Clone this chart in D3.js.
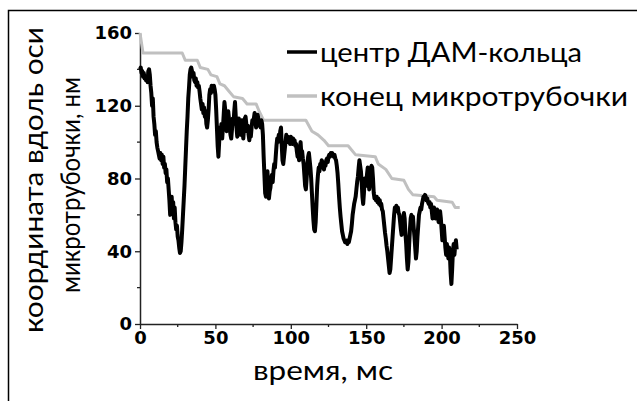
<!DOCTYPE html>
<html>
<head>
<meta charset="utf-8">
<script src="https://cdn.jsdelivr.net/npm/d3@7"></script>
<style>
  html, body { margin: 0; padding: 0; background: #fff; }
  svg { display: block; }
</style>
</head>
<body>
<svg id="chart" width="637" height="401"></svg>
<script>
// DAM-ring centre position, nm, sampled every 0.5 ms from t = 0
const ringSampleMs = 0.5;
const ringNm = [
  140,141,138,139,136,138,135,136,134,135,
  133,139,140,137,131,127,120,124,114,110,
  104,106,100,97,95,93,91,94,90,93,
  88,92,86,88,83,85,78,80,74,68,
  60,66,70,62,67,58,64,56,52,54,
  48,46,42,39,40,45,52,60,68,76,
  86,96,106,114,124,130,137,140,141,139,
  136,138,134,133,135,131,133,130,131,128,
  124,121,118,121,116,119,114,117,110,108,
  112,118,126,129,127,131,130,128,131,129,
  126,118,108,98,92,100,108,104,110,102,
  108,115,122,118,110,106,112,117,113,108,
  104,102,107,113,110,117,122,114,108,103,
  110,113,108,104,109,112,106,102,108,113,
  114,110,106,109,104,101,106,103,108,112,
  110,113,116,112,108,111,115,113,109,111,
  108,112,110,104,92,82,72,70,80,84,
  76,69,73,75,80,82,78,84,88,86,
  92,98,102,100,104,101,106,108,98,90,
  88,92,96,100,104,101,103,100,102,99,
  103,101,99,102,100,101,98,99,95,92,
  94,90,97,100,93,95,91,88,82,76,
  74,80,88,92,94,90,86,80,72,64,
  57,52,51,56,66,76,82,86,84,88,
  87,90,89,86,85,88,87,90,91,89,
  92,93,92,94,93,94,93,92,93,91,
  90,87,83,77,70,64,59,55,51,49,
  47,46,45,46,45,44,46,45,47,49,
  51,55,60,63,66,68,70,74,78,81,
  86,90,87,84,78,70,66,72,80,78,
  76,82,86,80,74,78,84,87,86,80,
  72,69,70,68,70,67,69,66,68,65,
  66,63,62,58,54,50,47,43,40,36,
  32,28,30,36,42,48,54,60,64,62,
  65,63,64,61,60,56,52,49,54,58,
  61,58,50,44,36,30,34,44,52,58,
  60,56,59,53,48,42,36,40,48,54,
  60,62,64,63,66,68,70,69,71,70,
  68,69,67,66,67,64,66,62,58,60,
  64,62,58,61,63,60,56,58,62,58,
  52,46,50,54,48,42,38,44,40,36,
  42,38,28,22,30,40,44,38,43,46,
  41
];

// Microtubule end position (stepwise shortening)
const endTimeMs = [0, 2, 28, 30, 38, 40, 45, 47, 51, 53, 56, 59, 62, 68, 71, 77, 79, 82,
  110, 114, 118, 122, 125, 138, 143, 156, 158, 163, 167, 175, 178, 181, 195, 197, 207, 209, 212];
const endNm = [160, 149, 149, 145, 145, 141, 140, 137, 136, 132, 131, 128, 125, 124, 121, 121, 117, 112,
  112, 106, 104, 101, 98, 98, 93, 92, 88, 85, 80, 79, 74, 71, 70, 68, 67, 64, 64];

const seriesNames = ["центр ДАМ-кольца", "конец микротрубочки"];
const seriesColors = ["#000000", "#c0c0c0"];

const xTicks = [0, 50, 100, 150, 200, 250];
const yTicks = [0, 40, 80, 120, 160];
const xTitle = "время, мс";
const yTitleLines = ["координата вдоль оси", "микротрубочки, нм"];

const svg = d3.select("#chart");

// outer frame (top and left edges)
svg.append("path")
  .attr("d", "M8.5,401 V10.5 H637")
  .attr("fill", "none").attr("stroke", "#000").attr("stroke-width", 1.5);

const x = d3.scaleLinear().domain([0, 250]).range([140, 517]);
const y = d3.scaleLinear().domain([0, 160]).range([324, 33]);

const tickFont = "'DejaVu Sans', sans-serif";
const titleFont = "Lato, 'Open Sans', sans-serif";

// minor ticks
const xMinor = d3.range(25, 250, 50);
const yMinor = d3.range(20, 160, 40);
svg.append("g").selectAll("line").data(xMinor).join("line")
  .attr("x1", d => x(d)).attr("x2", d => x(d))
  .attr("y1", y(0)).attr("y2", y(0) + 3)
  .attr("stroke", "#222").attr("stroke-width", 1.3);
svg.append("g").selectAll("line").data(yMinor).join("line")
  .attr("y1", d => y(d)).attr("y2", d => y(d))
  .attr("x1", x(0)).attr("x2", x(0) - 3)
  .attr("stroke", "#222").attr("stroke-width", 1.3);

// axes
const xAxis = svg.append("g").attr("transform", `translate(0,${y(0)})`)
  .call(d3.axisBottom(x).tickValues(xTicks).tickSize(5).tickPadding(2).tickSizeOuter(0));
const yAxis = svg.append("g").attr("transform", `translate(${x(0)},0)`)
  .call(d3.axisLeft(y).tickValues(yTicks).tickSize(5).tickPadding(3).tickSizeOuter(0));

[xAxis, yAxis].forEach(a => {
  a.select(".domain").attr("stroke", "#222").attr("stroke-width", 1.5);
  a.selectAll(".tick line").attr("stroke", "#222").attr("stroke-width", 1.3);
  a.selectAll(".tick text")
    .attr("fill", "#000")
    .style("font-family", tickFont)
    .style("font-weight", "bold")
    .style("font-size", "18px");
});

// data lines
const ringLine = d3.line()
  .x((d, i) => x(i * ringSampleMs))
  .y(d => y(d));
const endLine = d3.line()
  .x((d, i) => x(endTimeMs[i]))
  .y(d => y(d));

svg.append("path").datum(endNm)
  .attr("d", endLine)
  .attr("fill", "none")
  .attr("stroke", seriesColors[1])
  .attr("stroke-width", 3)
  .attr("stroke-linejoin", "round");

svg.append("path").datum(ringNm)
  .attr("d", ringLine)
  .attr("fill", "none")
  .attr("stroke", seriesColors[0])
  .attr("stroke-width", 4)
  .attr("stroke-linejoin", "round");

// legend
const legendRows = [
  { y: 52, baseline: 62, width: 262 },
  { y: 96, baseline: 106, width: 308 }
];
legendRows.forEach((r, i) => {
  svg.append("line")
    .attr("x1", 287).attr("x2", 317)
    .attr("y1", r.y).attr("y2", r.y)
    .attr("stroke", seriesColors[i]).attr("stroke-width", 3.5);
  svg.append("text")
    .attr("x", 320).attr("y", r.baseline)
    .attr("textLength", r.width).attr("lengthAdjust", "spacingAndGlyphs")
    .style("font-family", titleFont).style("font-size", "27px")
    .attr("fill", "#000")
    .text(seriesNames[i]);
});

// axis titles
svg.append("text")
  .attr("x", 323).attr("y", 380)
  .attr("text-anchor", "middle")
  .attr("textLength", 140).attr("lengthAdjust", "spacingAndGlyphs")
  .style("font-family", titleFont).style("font-size", "27px")
  .attr("fill", "#000")
  .text(xTitle);

const yTitleSpecs = [
  { cx: 43, cy: 180, len: 306 },
  { cx: 80, cy: 185, len: 216 }
];
yTitleLines.forEach((t, i) => {
  const s = yTitleSpecs[i];
  svg.append("text")
    .attr("transform", `translate(${s.cx},${s.cy}) rotate(-90)`)
    .attr("text-anchor", "middle")
    .attr("textLength", s.len).attr("lengthAdjust", "spacingAndGlyphs")
    .style("font-family", titleFont).style("font-size", "27px")
    .attr("fill", "#000")
    .text(t);
});
</script>
</body>
</html>
